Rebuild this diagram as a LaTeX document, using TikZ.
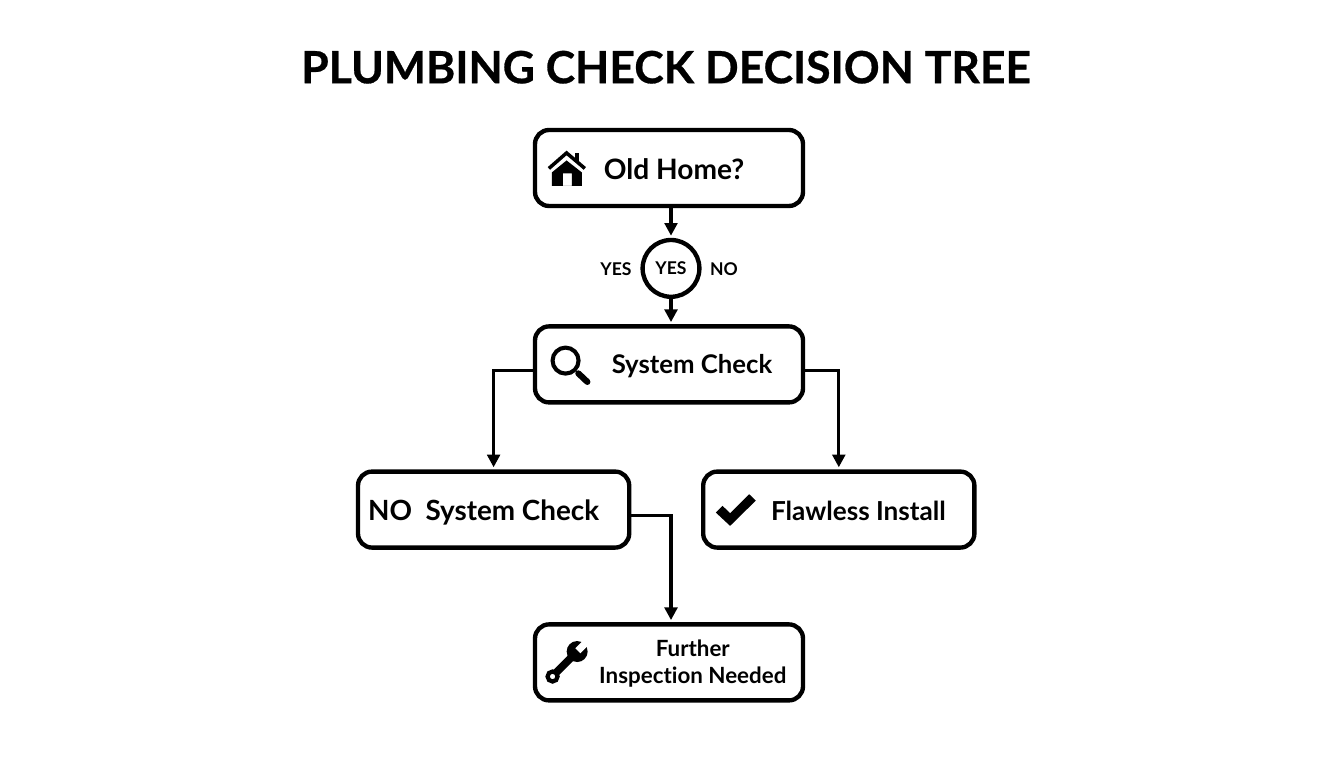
\documentclass[tikz,border=0pt]{standalone}
\usepackage{fontspec}
\setmainfont{Lato}[Ligatures=NoCommon]
\newfontfamily\headfont{Lato}[Ligatures=NoCommon,FakeBold=0.6,BoldFont={Lato Bold}]
\usetikzlibrary{positioning}
\usetikzlibrary{calc}
\usetikzlibrary{arrows.meta}
\tikzset{>={Triangle[length=9pt,width=9pt]}}
\tikzset{
  boxnode/.style={draw=black,line width=3.1pt,rounded corners=10pt,fill=white,
    minimum width=6.7cm,minimum height=1.9cm,inner sep=0pt},
  widebox/.style={boxnode,minimum width=6.78cm},
  decnode/.style={draw=black,line width=3.1pt,circle,fill=white,minimum size=1.42cm,inner sep=0pt},
  boxtext/.style={inner sep=0pt},
  smalltext/.style={font=\fontsize{12.5}{15}\selectfont\bfseries,inner sep=0pt},
  linktext/.style={font=\fontsize{15.9}{19}\selectfont\bfseries,inner sep=0pt,align=center},
  link/.style={draw=black,line width=2.3pt,->,shorten >=1.5pt}
}
\begin{document}
\begin{tikzpicture}

\useasboundingbox (0,0) rectangle (33.6,19.2);

% ---------------- Title ----------------
\node[font=\fontsize{31.6}{38}\headfont\bfseries,inner sep=0pt] (title) at (16.65,17.52) {PLUMBING CHECK DECISION TREE};

% ---------------- Boxes ----------------
\node[boxnode] (oldhome) at (16.725,15) {};
\node[decnode] (yescirc) at (16.775,12.49) {};
\node[boxnode] (syscheck) at (16.725,10.09) {};
\node[widebox] (nocheck) at (12.34,6.46) {};
\node[widebox] (install) at (20.97,6.46) {};
\node[boxnode] (further) at (16.725,2.64) {};

% ---------------- Texts ----------------
\node[boxtext,font=\fontsize{20}{24}\selectfont\bfseries] (oldtext) at (16.85,14.975) {Old Home?};
\node[smalltext] (yesin) at (yescirc) {YES};
\node[smalltext] (yesleft) at (15.4,12.475) {YES};
\node[smalltext] (noright) at (18.1,12.475) {NO};
\node[boxtext,font=\fontsize{18.3}{22}\selectfont\bfseries] (systext) at (17.3,10.04) {System Check};
\node[boxtext,font=\fontsize{19.8}{24}\selectfont\bfseries] (notext) at (12.09,6.385) {NO\ \ System Check};
\node[boxtext,font=\fontsize{18.6}{22}\selectfont\bfseries] (insttext) at (21.46,6.435) {Flawless Install};
\node[linktext] (furthertext) at (17.32,2.615) {Further\\Inspection Needed};

% ---------------- Connectors ----------------
\draw[link] (yescirc |- oldhome.south) -- (yescirc.north);
\draw[link] (yescirc.south) -- (yescirc |- syscheck.north);
\draw[link] ([yshift=-1.5mm]syscheck.west) -| (nocheck.north);
\draw[link] ([yshift=-1.5mm]syscheck.east) -| (install.north);
\draw[link] ([yshift=-1.5mm]nocheck.east) -| (yescirc |- further.north);

% ---------------- Icons (in pixels) ----------------
\begin{scope}[yshift=19.2cm,x=0.025cm,y=-0.025cm]
  % House
  \draw[line width=2.5pt,line join=miter] (549,168.5) -- (566.7,153) -- (585,168.5);
  \fill (575,153) rectangle (579.5,162);
  \fill[even odd rule] (566.7,160.5) -- (582,172.5) -- (582,186) -- (552,186) -- (552,172.5) -- cycle
    (563,173.5) rectangle (572,186);
  % Magnifier
  \draw[line width=2.9pt] (565.7,360.7) circle (13);
  \draw[line width=4.4pt,line cap=round] (578.5,373.5) -- (587.5,382);
  % Check mark
  \fill (716,512.7) -- (722.7,506) -- (730.3,513.3) -- (749.3,494.3) -- (756,500.7) -- (730.3,526) -- cycle;
  % Wrench
  \draw[line width=5.4pt] (556,673) -- (574,655);
  \draw[line width=3pt,fill=white] (552.7,676.7) circle (5);
  \fill (577.3,651.7) circle (10.5);
  \draw[white,line width=5pt] (578,651) -- (591,638);
\end{scope}

\end{tikzpicture}
\end{document}
